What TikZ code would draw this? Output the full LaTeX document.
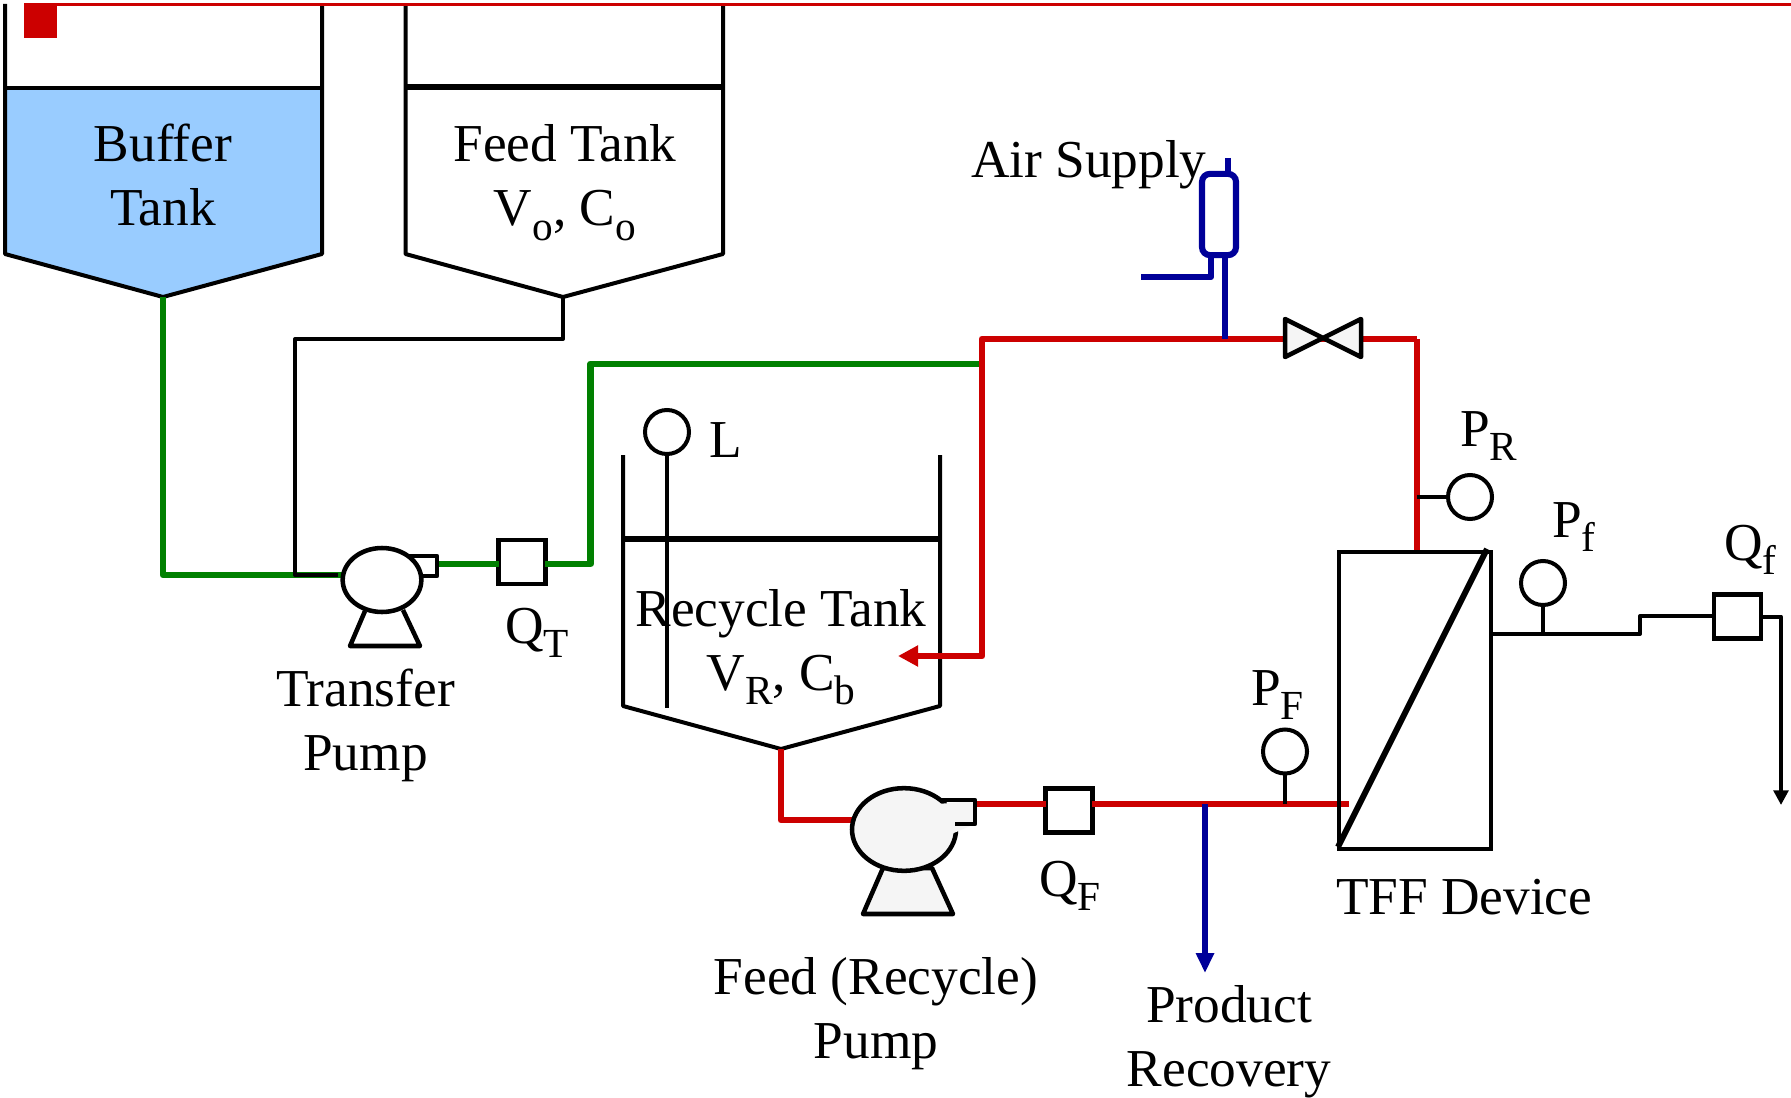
\documentclass[tikz,border=0pt]{standalone}
\usepackage{fontspec}
\setmainfont{Liberation Serif}
\usetikzlibrary{arrows.meta,shapes.geometric}
\definecolor{pred}{HTML}{CC0000}
\definecolor{pgreen}{HTML}{008000}
\definecolor{pblue}{HTML}{000099}
\definecolor{tankblue}{HTML}{99CCFF}
\definecolor{pumpgray}{HTML}{F5F5F5}
\newcommand{\subtxt}[1]{\raisebox{-0.28em}{\fontsize{31}{31}\selectfont #1}}
\tikzset{
  x=0.75pt,y=-0.75pt,
  blk/.style={draw=black,line width=3pt,line join=round},
  thick level/.style={draw=black,line width=4.5pt},
  redpipe/.style={draw=pred,line width=5pt,line join=round},
  greenpipe/.style={draw=pgreen,line width=5pt,line join=round},
  bluepipe/.style={draw=pblue,line width=4.6pt,line join=round},
  flowbox/.style={rectangle,draw=black,line width=3.4pt,fill=white,minimum width=35pt,minimum height=32pt,inner sep=0pt,outer sep=0pt},
  gauge/.style={circle,draw=black,line width=3pt,fill=white,minimum size=33pt,inner sep=0pt,outer sep=0pt},
  pumpbody/.style={ellipse,draw=black,line width=3.4pt,inner sep=0pt,outer sep=0pt},
  lbl/.style={font=\fontsize{40}{48}\selectfont,anchor=base,align=center,inner sep=0pt,outer sep=0pt},
  lblw/.style={font=\fontsize{40}{48}\selectfont,anchor=base west,inner sep=0pt,outer sep=0pt},
}
\begin{document}
\begin{tikzpicture}
\useasboundingbox (0,0) rectangle (1791,1098);
% named points
\coordinate (btip) at (163,297);
\coordinate (ftip) at (563,297);
\coordinate (rtip) at (781,749);
\coordinate (rfeed) at (982,339);
\coordinate (rtr) at (1417,339);
\coordinate (rin) at (1349,804);
\coordinate (tjoin) at (295,575);
\coordinate (tin) at (338,575);
\coordinate (tgin) at (345,575);
\coordinate (tout) at (437,564);
\coordinate (fout) at (975,804);
\coordinate (fin) at (853,820);
\coordinate (rret) at (898,656);
\coordinate (airj) at (1225,339);
\coordinate (prodj) at (1205,804);
\coordinate (prodend) at (1205,973);
\coordinate (pfj) at (1285,804);
\coordinate (permout) at (1493,634);
\coordinate (pfmj) at (1543,634);
\coordinate (permend) at (1781,805);
\coordinate (prj) at (1417,497);
\coordinate (tfftop) at (1417,551);
% tanks
\fill[tankblue] (5,88) -- (322,88) -- (322,254) -- (btip) -- (5,254) -- cycle;
\draw[blk] (5,4) -- (5,254) -- (btip) -- (322,254) -- (322,4);
\draw[blk] (5,88) -- (322,88);
\draw[blk] (405.5,4) -- (405.5,254) -- (ftip) -- (723,254) -- (723,4);
\draw[thick level] (405.5,87) -- (723,87);
\draw[blk] (623,455) -- (623,706) -- (rtip) -- (940,706) -- (940,455);
\draw[thick level] (623,539) -- (940,539);
% top red rule and marker
\fill[pred] (24,3) rectangle (57,38);
\draw[draw=pred,line width=2pt] (57,4.5) -- (1791,4.5);
% level sensor
\node[gauge] (gL) at (667,432) {};
\coordinate (lstem) at (667,708);
\draw[blk] (gL) -- (lstem);
% flow elements
\node[flowbox,minimum width=35pt,minimum height=33pt] (QT) at (522,562) {};
\node[flowbox,minimum width=35pt,minimum height=33pt] (QF) at (1069,810.5) {};
\node[flowbox,minimum width=35pt,minimum height=33pt] (Qf) at (1737.5,616.5) {};
% pipes
\draw[greenpipe] (btip) -- (163,575) -- (tgin);
\draw[blk] (ftip) -- (563,339) -- (295,339) -- (tjoin) -- (tin);
\draw[greenpipe] (tout) -- (QT.west |- tout);
\draw[greenpipe] (QT.east |- tout) -- (590.5,564) -- (590.5,364) -- (979,364);
\draw[redpipe,-{Triangle[length=15pt,width=15pt]}] (rtr) -- (rfeed) -- (982,656) -- (rret);
\draw[redpipe] (rtr) -- (tfftop);
\draw[redpipe] (rtip) -- (781,820) -- (fin);
\draw[redpipe] (fout) -- (QF.west |- fout);
\draw[redpipe] (QF.east |- fout) -- (rin);
\draw[draw=pblue,line width=4.6pt,-{Triangle[length=15pt,width=13pt]}] (prodj) -- (prodend);
% air supply
\node[rectangle,rounded corners=6pt,draw=pblue,line width=4.6pt,fill=white,minimum width=25.5pt,minimum height=61pt,inner sep=0pt,outer sep=0pt] (air) at (1219,214.5) {};
\coordinate (airtop) at (1228,158);
\draw[bluepipe] (airtop) -- (1228,173);
\coordinate (airleft) at (1141,277);
\draw[bluepipe] (1211,255) -- (1211,277) -- (airleft);
\draw[bluepipe] (1225,255) -- (airj);
% valve
\node[inner sep=0pt,minimum size=0pt] (valve) at (1323,338) {};
\draw[blk,fill=pumpgray,line width=3.4pt,miter limit=2] (1285,319) -- (1361,357) -- (1361,319) -- (1285,357) -- cycle;
% TFF device
\node[rectangle,draw=black,line width=3.4pt,minimum width=114pt,minimum height=223pt,inner sep=0pt,outer sep=0pt] (tff) at (1415,700.5) {};
\draw[draw=black,line width=4.4pt] (1338,847) -- (1487,549);
% sensors
\node[gauge] (gPR) at (1470,497) {};
\draw[blk] (gPR) -- (prj);
\node[gauge] (gPF) at (1285,751.5) {};
\draw[blk] (gPF) -- (pfj);
\node[gauge] (gPf) at (1543,583) {};
\draw[blk] (gPf) -- (pfmj);
% permeate line
\draw[blk] (permout) -- (1640,634) -- (1640,616) -- (Qf.west |- 1640,616);
\draw[blk,-{Triangle[length=11pt,width=11pt]}] (Qf.east) -- (1781,616.5) -- (permend);
% transfer pump
\draw[blk,line width=3.4pt] (365,611) -- (350,646) -- (420,646) -- (403,610);
\draw[blk,line width=3.4pt,fill=white] (408,556) -- (437,556) -- (437,576) -- (415,576);
\node[pumpbody,fill=white,minimum width=59pt,minimum height=48pt] (ptr) at (382,580) {};
% feed pump
\draw[blk,line width=3.4pt,fill=pumpgray] (883,868) -- (863,914) -- (953,914) -- (932,868) -- cycle;
\node[pumpbody,fill=pumpgray,minimum width=78pt,minimum height=62pt] (pfd) at (904,829.5) {};
\fill[pumpgray] (925,805) -- (975,801) -- (975,824) -- (942,838) -- cycle;
\draw[blk,line width=3.4pt] (939,800) -- (975,800) -- (975,824) -- (955,824);
% texts
\node[lbl] (tB) at (163,226) {Buffer\\Tank};
\node[lbl] (tF) at (565,226) {Feed Tank\\V\subtxt{o}, C\subtxt{o}};
\node[lblw] (tA) at (971,178) {Air Supply};
\node[lblw] (tL) at (709,457) {L};
\node[lbl] (tR) at (781,690) {Recycle Tank\\V\subtxt{R}, C\subtxt{b}};
\node[lblw] (tQT) at (505,643) {Q\subtxt{T}};
\node[lbl] (tTP) at (365.5,770) {Transfer\\Pump};
\node[lblw] (tQF) at (1039,896) {Q\subtxt{F}};
\node[lbl] (tFP) at (876,1058) {Feed (Recycle)\\Pump};
\node[lbl] (tPR) at (1229,1086) {Product\\Recovery};
\node[lblw] (tTFF) at (1336,914) {TFF Device};
\node[lblw] (tPFl) at (1251,705) {P\subtxt{F}};
\node[lblw] (tPRl) at (1460,446) {P\subtxt{R}};
\node[lblw] (tPfl) at (1552,537) {P\subtxt{f}};
\node[lblw] (tQfl) at (1724,560) {Q\subtxt{f}};
\end{tikzpicture}
\end{document}
